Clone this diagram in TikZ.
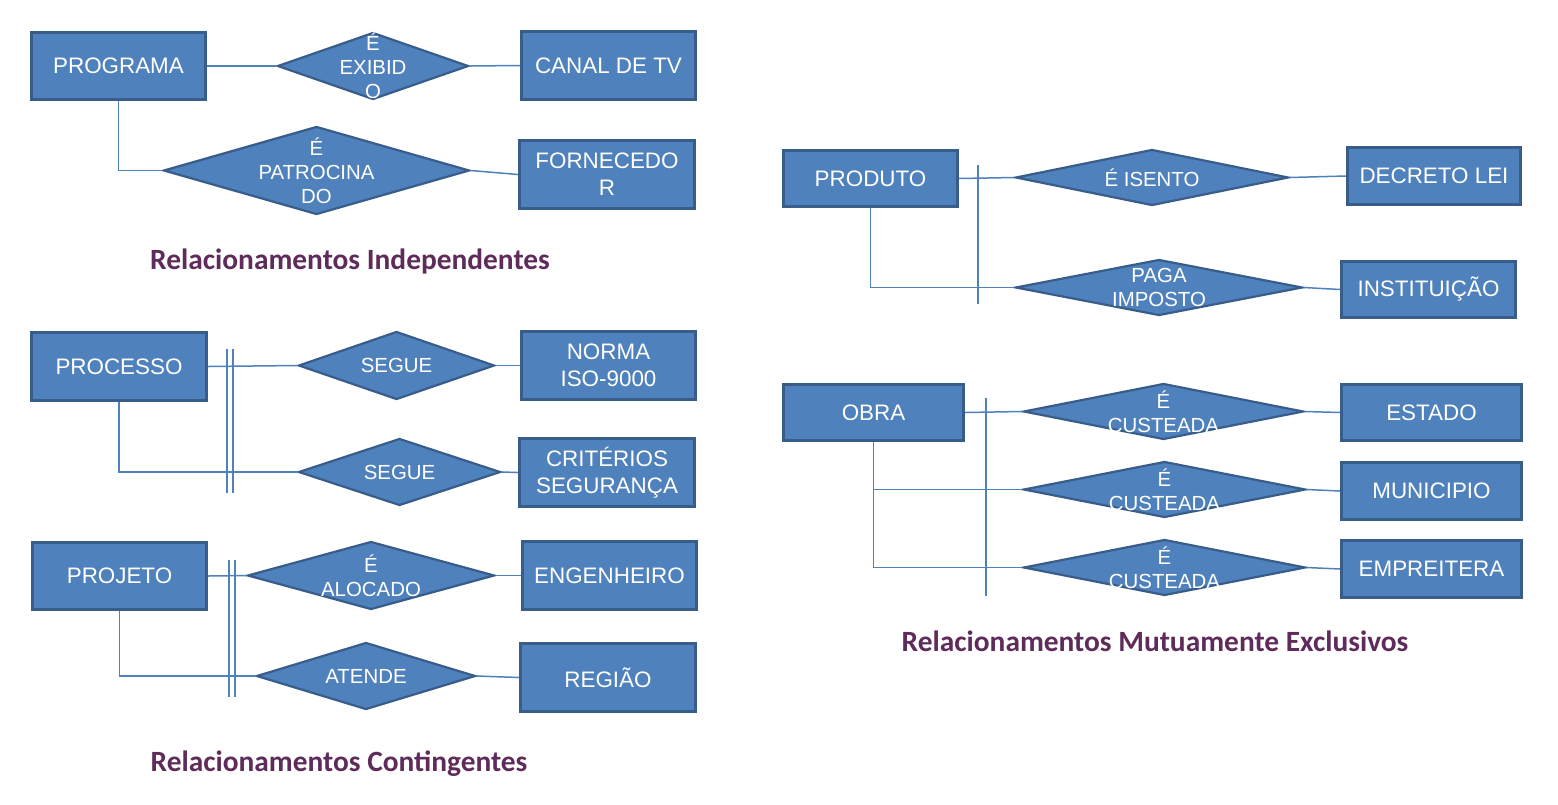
\documentclass[tikz,border=0pt]{standalone}
\usepackage{fontspec}
\setmainfont{Liberation Sans}
\newfontfamily\titlefont{Carlito}
\usetikzlibrary{shapes.geometric}
\definecolor{fillb}{HTML}{4F81BD}
\definecolor{edgeb}{HTML}{385D8A}
\definecolor{titlec}{HTML}{5E2B5B}
\begin{document}
\begin{tikzpicture}[x=0.5pt,y=-0.5pt,
  sz/.style 2 args={minimum width=#1*0.5pt-1.5pt, minimum height=#2*0.5pt-1.5pt},
  ent/.style={rectangle, draw=edgeb, fill=fillb, line width=1.5pt, text=white,
    font=\fontsize{11.2}{13.5}\selectfont, align=center, inner sep=0pt},
  rel/.style={diamond, draw=edgeb, fill=fillb, line width=1.1pt, inner sep=0pt},
  dlab/.style={text=white, font=\fontsize{10.2}{12}\selectfont, align=center, inner sep=0pt},
  lnk/.style={draw=fillb, line width=0.75pt},
  ttl/.style={text=titlec, font=\titlefont\bfseries\fontsize{14.7}{17}\selectfont}
]
\useasboundingbox[fill=white] (0,0) rectangle (1558,804);

% ---------- Independentes ----------
\node[ent, sz={177}{70}] (prog) at (118.5,66) {PROGRAMA};
\node[ent, sz={177}{71}] (canal) at (608.5,65.5) {CANAL DE TV};
\node[ent, sz={178}{71}] (forn) at (607,174.5) {FORNECEDO\\R};
\node[rel, sz={194}{70}, label={[dlab]center:{É\\EXIBID\\O}}] (d1) at (373,66) {};
\node[rel, sz={309}{91}, label={[dlab]center:{É\\PATROCINA\\DO}}] (d2) at (316.5,170.5) {};
\draw[lnk] (prog.east) -- (d1.west);
\draw[lnk] (d1.east) -- (canal.west);
\draw[lnk] (prog.south) |- (d2.west);
\draw[lnk] (d2.east) -- (forn.west);
\node[ttl] (t1) at (350,261) {Relacionamentos Independentes};

% ---------- Contingentes ----------
\node[ent, sz={178}{71}] (proc) at (119,366.5) {PROCESSO};
\node[ent, sz={177}{71}] (norma) at (608.5,365.5) {NORMA\\ISO-9000};
\node[ent, sz={178}{71}] (crit) at (607,472.5) {CRITÉRIOS\\SEGURANÇA};
\node[rel, sz={199}{71}, label={[dlab]center:{SEGUE}}] (d3) at (396.5,365.5) {};
\node[rel, sz={205}{70}, label={[dlab]center:{SEGUE}}] (d4) at (399.5,472) {};
\draw[lnk] (proc.east) -- (d3.west);
\draw[lnk] (d3.east) -- (norma.west);
\draw[lnk] (proc.south) |- (d4.west);
\draw[lnk] (d4.east) -- (crit.west);
\coordinate (p1a) at (227,349); \coordinate (p1b) at (227,493);
\coordinate (p2a) at (233,349); \coordinate (p2b) at (233,493);
\draw[lnk] (p1a) -- (p1b);
\draw[lnk] (p2a) -- (p2b);

\node[ent, sz={177}{70}] (proj) at (119.5,576) {PROJETO};
\node[ent, sz={177}{71}] (eng) at (609.5,575.5) {ENGENHEIRO};
\node[ent, sz={178}{71}] (reg) at (608,677.5) {REGIÃO};
\node[rel, sz={250}{71}, label={[dlab]center:{É\\ALOCADO}}] (d5) at (371,575.5) {};
\node[rel, sz={222}{70}, label={[dlab]center:{ATENDE}}] (d6) at (366,676) {};
\draw[lnk] (proj.east) -- (d5.west);
\draw[lnk] (d5.east) -- (eng.west);
\draw[lnk] (proj.south) |- (d6.west);
\draw[lnk] (d6.east) -- (reg.west);
\coordinate (q1a) at (229,560); \coordinate (q1b) at (229,697);
\coordinate (q2a) at (235,560); \coordinate (q2b) at (235,697);
\draw[lnk] (q1a) -- (q1b);
\draw[lnk] (q2a) -- (q2b);
\node[ttl] (t2) at (339,764) {Relacionamentos Contingentes};

% ---------- Mutuamente Exclusivos ----------
\node[ent, sz={177}{59}] (prod) at (870.5,178.5) {PRODUTO};
\node[ent, sz={176}{60}] (dec) at (1434,176) {DECRETO LEI};
\node[ent, sz={177}{59}] (inst) at (1428.5,289.5) {INSTITUIÇÃO};
\node[rel, sz={276}{59}, label={[dlab]center:{É ISENTO}}] (d7) at (1152,177.5) {};
\node[rel, sz={290}{59}, label={[dlab]center:{PAGA\\IMPOSTO}}] (d8) at (1159,287.5) {};
\draw[lnk] (prod.east) -- (d7.west);
\draw[lnk] (d7.east) -- (dec.west);
\draw[lnk] (prod.south) |- (d8.west);
\draw[lnk] (d8.east) -- (inst.west);
\coordinate (r1a) at (978,165); \coordinate (r1b) at (978,304);
\draw[lnk] (r1a) -- (r1b);

\node[ent, sz={183}{59}] (obra) at (873.5,412.5) {OBRA};
\node[ent, sz={183}{59}] (est) at (1431.5,412.5) {ESTADO};
\node[ent, sz={183}{60}] (mun) at (1431.5,491) {MUNICIPIO};
\node[ent, sz={183}{60}] (emp) at (1431.5,569) {EMPREITERA};
\node[rel, sz={283}{59}, label={[dlab]center:{É\\CUSTEADA}}] (d9) at (1163.5,411.5) {};
\node[rel, sz={285}{59}, label={[dlab]center:{É\\CUSTEADA}}] (d10) at (1164.5,489.5) {};
\node[rel, sz={285}{59}, label={[dlab]center:{É\\CUSTEADA}}] (d11) at (1164.5,567.5) {};
\draw[lnk] (obra.east) -- (d9.west);
\draw[lnk] (d9.east) -- (est.west);
\draw[lnk] (obra.south) |- (d10.west);
\draw[lnk] (obra.south) |- (d11.west);
\draw[lnk] (d10.east) -- (mun.west);
\draw[lnk] (d11.east) -- (emp.west);
\coordinate (s1a) at (986,398); \coordinate (s1b) at (986,596);
\draw[lnk] (s1a) -- (s1b);
\node[ttl] (t3) at (1155,641) {Relacionamentos Mutuamente Exclusivos};
\end{tikzpicture}
\end{document}
